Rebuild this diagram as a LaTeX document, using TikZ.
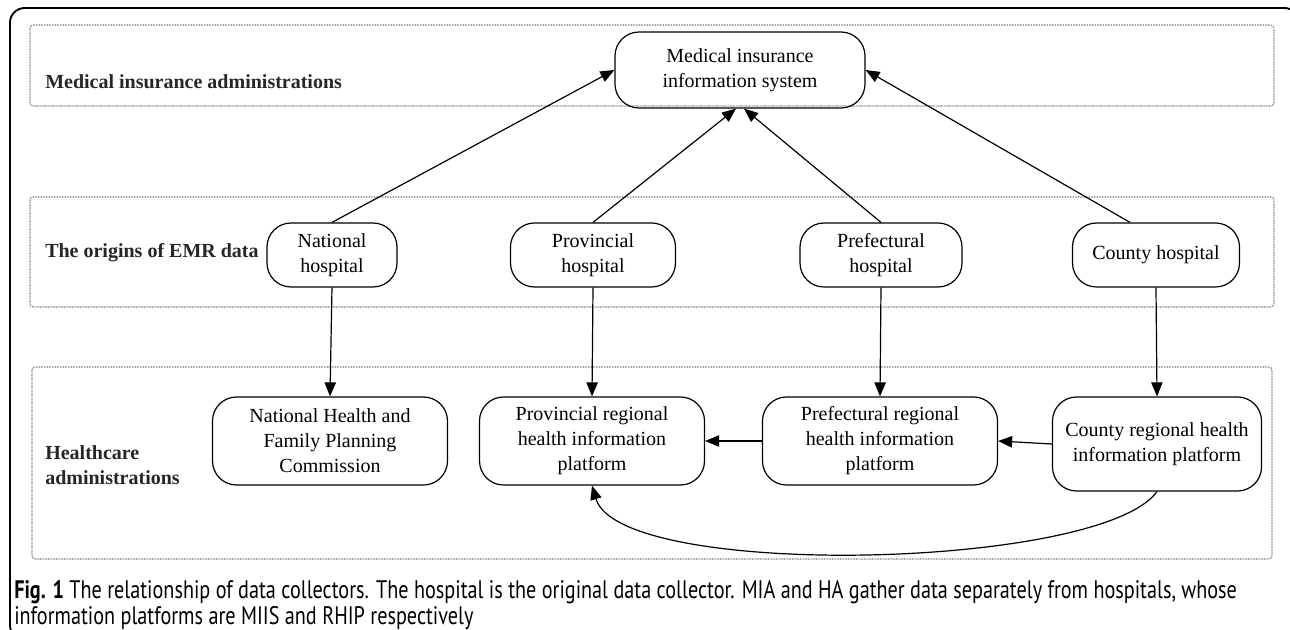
\documentclass[tikz,border=0pt]{standalone}
\usepackage{fontspec}
\usepackage{graphicx}
\setmainfont{Liberation Serif}
\newfontfamily\capfont{PT Sans}
\usetikzlibrary{arrows.meta}
\begin{document}
\begin{tikzpicture}[x=0.75pt,y=-0.75pt,
  box/.style={draw, line width=0.9pt, rounded corners=18pt, align=center,
    font=\fontsize{15}{18.75}\selectfont, inner sep=0pt},
  band/.style={draw=black!55, line width=0.8pt, dash pattern=on 0.6pt off 0.6pt, rounded corners=2.5pt},
  bandlabel/.style={anchor=west, align=left, inner sep=0pt,
    font=\fontsize{15}{18.75}\selectfont\bfseries, text=black!85},
  arr/.style={line width=0.9pt, -{Triangle[length=10.5pt,width=8.5pt]}},
  captext/.style={anchor=base west, inner sep=0pt}
]
\useasboundingbox (0,0) rectangle (1290,630);
\begin{scope}
\clip (0,0) rectangle (1290,630);
\draw[line width=1.4pt, rounded corners=11pt] (10,8) rectangle (1299,640);
\end{scope}

% bands
\draw[band] (30,25) rectangle (1274,106);
\draw[band] (30,197) rectangle (1274,307);
\draw[band] (32,367) rectangle (1272,559);

% band labels
\node[bandlabel] (l1) at (45,82) {Medical insurance administrations};
\node[bandlabel] (l2) at (45,253) {The origins of EMR data};
\node[bandlabel] (l3) at (45,465) {Healthcare\\administrations};

% nodes
\node[box, minimum width=187.5pt, minimum height=57pt] (miis) at (740,70) {Medical insurance\\information system};

\node[box, minimum width=97.5pt, minimum height=48pt] (nh) at (332,255) {National\\hospital};
\node[box, minimum width=123.75pt, minimum height=48pt] (ph) at (593,255) {Provincial\\hospital};
\node[box, minimum width=121.5pt, minimum height=48pt] (pfh) at (881,255) {Prefectural\\hospital};
\node[box, minimum width=125.25pt, minimum height=48pt] (ch) at (1156,255) {County hospital};

\node[box, minimum width=176.25pt, minimum height=66pt] (nhfpc) at (330,441) {National Health and\\Family Planning\\Commission};
\node[box, minimum width=168.75pt, minimum height=66pt] (prhip) at (592,441) {Provincial regional\\health information\\platform};
\node[box, minimum width=176.25pt, minimum height=66pt] (pfrhip) at (880,441) {Prefectural regional\\health information\\platform};
\node[box, minimum width=156.75pt, minimum height=70.5pt] (crhip) at (1157,444) {County regional health\\information platform};

% arrows to MIIS
\draw[arr] (nh.north) -- (miis.west);
\draw[arr] (ph.north) -- ([xshift=-3pt]miis.south);
\draw[arr] (pfh.north) -- ([xshift=3pt]miis.south);
\draw[arr] ([xshift=-19.5pt]ch.north) -- (miis.east);

% hospital to platforms
\draw[arr] (nh.south) -- (nhfpc.north);
\draw[arr] (ph.south) -- (prhip.north);
\draw[arr] (pfh.south) -- (pfrhip.north);
\draw[arr] (ch.south) -- (crhip.north);

% platform flows
\draw[arr] (pfrhip.west) -- (prhip.east);
\draw[arr] (crhip.west) -- (pfrhip.east);
\draw[arr] (crhip.south) .. controls (1100,570) and (620,580) .. (prhip.south);

% caption
\node[anchor=north west, inner sep=0pt, align=left] (cap) at (14,580)
  {\resizebox{917pt}{\height}{\capfont\fontsize{19}{19.5}\selectfont
   \begin{tabular}{@{}l@{}}
   \textbf{Fig. 1} The relationship of data collectors. The hospital is the original data collector. MIA and HA gather data separately from hospitals, whose\\
   information platforms are MIIS and RHIP respectively
   \end{tabular}}};
\end{tikzpicture}
\end{document}
